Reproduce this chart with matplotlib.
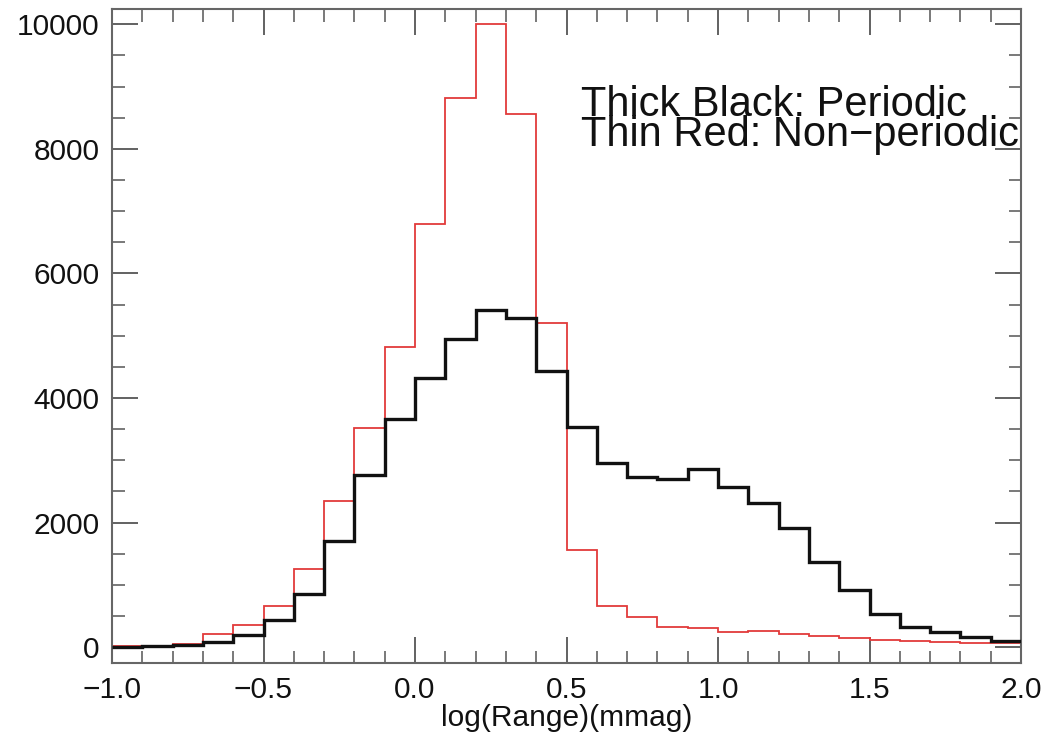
import numpy as np
import matplotlib
matplotlib.use("Agg")
import matplotlib.pyplot as plt
from matplotlib.ticker import MultipleLocator, FuncFormatter

# Histogram bins of log(Range) in mmag, width 0.1 from -1.0 to 2.0
bin_edges = np.round(np.arange(-1.0, 2.0001, 0.1), 1)

periodic = [8, 18, 38, 85, 197, 443, 853, 1696, 2768, 3669,
            4325, 4949, 5408, 5285, 4432, 3541, 2955, 2731, 2704, 2853,
            2571, 2315, 1909, 1371, 912, 528, 325, 245, 165, 100]
nonperiodic = [10, 25, 48, 203, 363, 656, 1248, 2341, 3525, 4821,
               6789, 8821, 10010, 8555, 5205, 1563, 667, 485, 325, 299,
               245, 256, 203, 176, 149, 107, 96, 80, 59, 70]

legend_lines = ["Thick Black: Periodic", "Thin Red: Non\u2212periodic"]
xlabel = "log(Range)(mmag)"

plt.rcParams['font.family'] = ['Liberation Sans', 'DejaVu Sans']

fig = plt.figure(figsize=(10.62, 7.43), dpi=100)
ax = fig.add_axes([112/1062, 1-663/743, (1021-112)/1062, (663-9)/743])

ax.stairs(nonperiodic, bin_edges, baseline=None, color='#e23a3a', linewidth=1.3, zorder=2)
ax.stairs(periodic, bin_edges, baseline=None, color='#111111', linewidth=2.4, zorder=3)

ax.set_xlim(-1.0, 2.0)
ax.set_ylim(-255, 10245)

ax.xaxis.set_major_locator(MultipleLocator(0.5))
ax.xaxis.set_minor_locator(MultipleLocator(0.1))
ax.yaxis.set_major_locator(MultipleLocator(2000))
ax.yaxis.set_minor_locator(MultipleLocator(500))

def xfmt(v, pos):
    s = f"{v:.1f}"
    return s.replace("-", "\u2212")
ax.xaxis.set_major_formatter(FuncFormatter(xfmt))
ax.yaxis.set_major_formatter(FuncFormatter(lambda v, p: f"{int(round(v))}"))

ax.tick_params(which='both', direction='in', top=True, right=True,
               color='#555555', labelsize=21.5, labelcolor='#111111')
ax.tick_params(which='major', length=19, width=1.3, pad=9)
ax.tick_params(which='minor', length=9, width=1.1)
for sp in ax.spines.values():
    sp.set_color('#666666')
    sp.set_linewidth(1.5)

ax.set_xlabel(xlabel, fontsize=21.5, color='#111111', labelpad=0)

ax.text(0.5155, 0.884, "\n".join(legend_lines), transform=ax.transAxes,
        fontsize=30, color='#111111', va='top', ha='left', linespacing=0.68)

fig.savefig("out.png", dpi=100, facecolor='white')
